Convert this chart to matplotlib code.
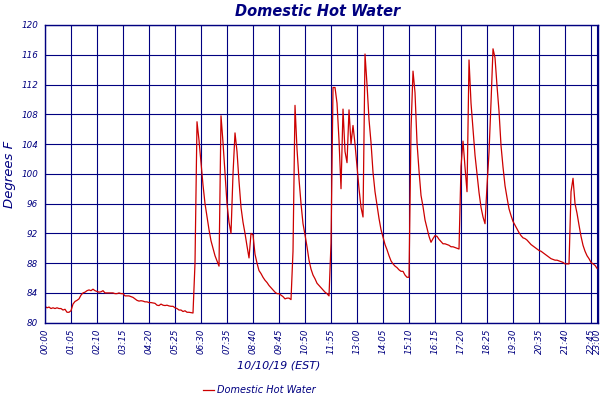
import numpy as np
import matplotlib
matplotlib.use("Agg")
import matplotlib.pyplot as plt

# 5-minute readings, 00:00 .. 23:00 (deg F)
temps = [
    82.2, 82.0, 82.1, 81.9, 82.0, 81.9, 82.0, 81.9, 81.9, 81.7, 81.8, 81.4, 81.4,
    81.6, 82.5, 82.85, 83.0, 83.2, 83.7, 84.0, 84.1, 84.3, 84.4, 84.3, 84.5, 84.3,
    84.2, 84.1, 84.15, 84.3, 84.0, 84.0, 84.0, 84.0, 84.0, 83.9, 83.9, 84.0, 83.9,
    83.9, 83.6, 83.6, 83.6, 83.5, 83.4, 83.2, 83.0, 82.9, 82.95, 82.9, 82.8, 82.8,
    82.7, 82.7, 82.65, 82.6, 82.35, 82.3, 82.5, 82.35, 82.3, 82.35, 82.25, 82.2, 82.2,
    82.0, 81.9, 81.7, 81.7, 81.5, 81.6, 81.4, 81.4, 81.35, 81.3, 88.0, 107.0, 104.5,
    101.5, 98.5, 96.0, 94.2, 92.5, 91.0, 90.0, 89.0, 88.3, 87.6, 107.8, 104.2, 100.0,
    96.0, 93.5, 92.0, 100.0, 105.5, 103.0, 99.0, 95.5, 93.5, 92.0, 90.3, 88.7, 92.0,
    91.8, 89.2, 88.0, 87.0, 86.6, 86.1, 85.7, 85.4, 85.0, 84.7, 84.4, 84.1, 83.9,
    83.9, 83.7, 83.5, 83.2, 83.3, 83.3, 83.1, 89.6, 109.2, 103.3, 99.3, 96.0, 93.3,
    91.8, 90.2, 88.4, 87.2, 86.4, 85.9, 85.3, 85.0, 84.7, 84.4, 84.1, 83.9, 83.6,
    90.7, 111.6, 111.6, 109.5, 104.5, 98.0, 108.7, 103.0, 101.5, 108.6, 104.0, 106.5, 104.0,
    101.0, 98.0, 95.5, 94.2, 116.1, 112.0, 107.3, 104.2, 100.2, 97.6, 95.8, 94.0, 92.5,
    91.5, 90.5, 89.8, 89.0, 88.3, 87.9, 87.6, 87.4, 87.1, 86.9, 86.9, 86.4, 86.1,
    86.1, 106.0, 113.8, 110.9, 104.2, 100.4, 97.1, 95.6, 93.8, 92.7, 91.6, 90.8, 91.3,
    91.7, 91.6, 91.2, 90.9, 90.6, 90.6, 90.5, 90.4, 90.2, 90.2, 90.1, 90.0, 89.9,
    101.0, 104.4, 100.9, 97.6, 115.3, 109.5, 106.0, 102.5, 100.0, 97.5, 95.5, 94.2, 93.3,
    98.4, 102.9, 109.6, 116.8, 115.6, 111.8, 108.4, 103.8, 100.9, 98.4, 96.8, 95.3, 94.4,
    93.6, 93.1, 92.6, 92.1, 91.7, 91.4, 91.3, 91.1, 90.8, 90.5, 90.3, 90.1, 89.9,
    89.7, 89.6, 89.4, 89.2, 89.0, 88.8, 88.6, 88.5, 88.4, 88.4, 88.3, 88.2, 88.1,
    87.9, 87.9, 87.9, 97.6, 99.4, 96.0, 94.7, 93.1, 91.6, 90.4, 89.6, 89.0, 88.6,
    88.1, 87.9, 87.7, 87.3,
]

time_labels = [
    "00:00", "01:05", "02:10", "03:15", "04:20", "05:25", "06:30", "07:35",
    "08:40", "09:45", "10:50", "11:55", "13:00", "14:05", "15:10", "16:15",
    "17:20", "18:25", "19:30", "20:35", "21:40", "22:45", "23:00",
]
y_ticks = [80, 84, 88, 92, 96, 100, 104, 108, 112, 116, 120]

SERIES = "Domestic Hot Water"
NAVY = "#000080"
RED = "#cc0000"


def label_pos(label):
    h, m = label.split(":")
    return (int(h) * 60 + int(m)) / 5


def main():
    plt.rcParams["font.family"] = "DejaVu Sans"
    fig = plt.figure(figsize=(6, 4), dpi=100)
    ax = fig.add_axes([0.075, 0.1933, 0.9217, 0.7442])

    x = np.arange(len(temps))
    ax.plot(x, temps, color=RED, linewidth=0.9, label=SERIES)

    ax.set_xlim(0, len(temps) - 0.5)
    ax.set_ylim(80, 120)
    ax.set_xticks([label_pos(t) for t in time_labels])
    ax.set_xticklabels(time_labels, rotation=90, fontsize=6.3,
                       style="italic", color=NAVY)
    ax.set_yticks(y_ticks)
    ax.set_yticklabels([str(v) for v in y_ticks], fontsize=6.3,
                       style="italic", color=NAVY)
    ax.tick_params(axis="both", length=0)
    ax.tick_params(axis="y", pad=5)
    ax.tick_params(axis="x", pad=4)

    ax.grid(True, color=NAVY, linewidth=0.8)
    ax.set_axisbelow(True)
    for s in ax.spines.values():
        s.set_color(NAVY)
        s.set_linewidth(1.0)

    fig.text(0.53, 0.972, SERIES, ha="center", va="center", fontsize=10.5,
             style="italic", weight="bold", color=NAVY)
    fig.text(0.016, 0.565, "Degrees F", ha="center", va="center",
             rotation=90, fontsize=9.5, style="italic", color=NAVY)
    fig.text(0.464, 0.085, "10/10/19 (EST)", ha="center", va="center",
             fontsize=8, style="italic", color=NAVY)

    fig.legend(loc="center", bbox_to_anchor=(0.432, 0.025), frameon=False,
               handlelength=1.2, handletextpad=0.3, labelcolor=NAVY,
               prop={"size": 7, "style": "italic"})

    fig.savefig("out.png", dpi=100)


if __name__ == "__main__":
    main()
